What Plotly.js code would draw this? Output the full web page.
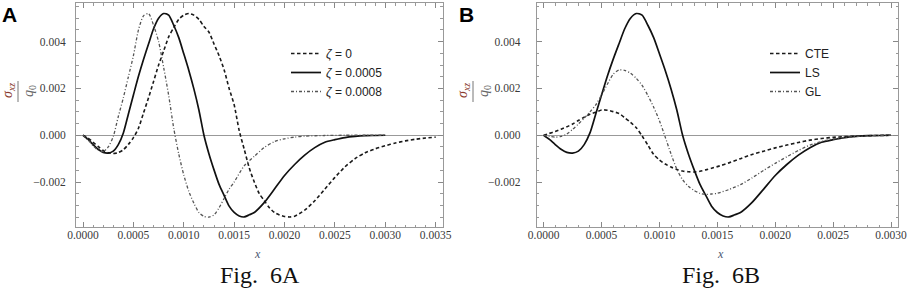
<!DOCTYPE html>
<html>
<head>
<meta charset="utf-8">
<script src="https://cdn.plot.ly/plotly-3.0.1.min.js"></script>
<style>html,body{margin:0;padding:0;background:#fff;}#chart{width:913px;height:288px;}</style>
</head>
<body>
<div id="chart"></div>
<script>
// ---------- DATA ----------
// Panel A
const xA0 = [0,0.00005,0.0001,0.00015,0.0002,0.00025,0.0003,0.00035,0.0004,0.00045,0.0005,0.00055,0.0006,0.00065,0.0007,0.00075,0.0008,0.00085,0.0009,0.00095,0.001,0.00105,0.0011,0.00115,0.0012,0.00125,0.0013,0.00135,0.0014,0.00145,0.0015,0.00155,0.0016,0.00165,0.0017,0.00175,0.0018,0.00185,0.0019,0.00195,0.002,0.00205,0.0021,0.0022,0.0023,0.0024,0.0025,0.0026,0.0027,0.0028,0.0029,0.003,0.0031,0.0032,0.0033,0.0034,0.0035];
const yA0 = [0,-0.00012,-0.0003,-0.00048,-0.00065,-0.00075,-0.00078,-0.00074,-0.00062,-0.00039,-0.0001,0.0003,0.00095,0.0016,0.0023,0.003,0.0036,0.0042,0.0046,0.00495,0.00513,0.0052,0.00513,0.00495,0.00465,0.0044,0.0039,0.0034,0.0028,0.002,0.0013,0.0002,-0.0006,-0.0014,-0.002,-0.0025,-0.0028,-0.0031,-0.0033,-0.00341,-0.00347,-0.00349,-0.00346,-0.0032,-0.0028,-0.0023,-0.0018,-0.00135,-0.001,-0.00075,-0.00058,-0.00045,-0.00033,-0.00024,-0.00017,-0.00012,-0.00008];

const xLS = [0,0.00005,0.0001,0.00015,0.0002,0.00025,0.0003,0.00035,0.0004,0.00045,0.0005,0.00055,0.0006,0.00065,0.0007,0.00075,0.0008,0.00085,0.0009,0.00095,0.001,0.00105,0.0011,0.00115,0.0012,0.00125,0.0013,0.00135,0.0014,0.00145,0.0015,0.00155,0.0016,0.00165,0.0017,0.0018,0.0019,0.002,0.0021,0.0022,0.0023,0.0024,0.0025,0.0026,0.0027,0.0028,0.0029,0.003];
const yLS = [0,-0.00018,-0.0004,-0.0006,-0.00073,-0.00076,-0.00068,-0.0004,0.0001,0.00091,0.00172,0.00252,0.00324,0.0039,0.00455,0.005,0.0052,0.00513,0.0047,0.00417,0.00348,0.00277,0.00198,0.00108,0.0000,-0.0008,-0.00148,-0.0021,-0.00257,-0.00303,-0.0033,-0.00345,-0.00349,-0.0034,-0.0033,-0.00287,-0.0023,-0.00172,-0.00125,-0.00085,-0.00053,-0.0003,-0.00019,-0.0001,-0.00005,-0.00002,-0.00001,0];

const xA8 = [0,0.00005,0.0001,0.00015,0.0002,0.00025,0.0003,0.00035,0.0004,0.00045,0.0005,0.00055,0.0006,0.00065,0.0007,0.00075,0.0008,0.00085,0.0009,0.00095,0.001,0.00105,0.0011,0.00115,0.0012,0.00125,0.0013,0.00135,0.0014,0.00145,0.0015,0.0016,0.0017,0.0018,0.0019,0.002,0.0021,0.0022,0.0024,0.0026,0.0028,0.003];
const yA8 = [0,-0.0002,-0.00045,-0.00064,-0.0007,-0.0005,-0.00005,0.0008,0.0016,0.0025,0.0034,0.0045,0.0051,0.0052,0.0047,0.004,0.0029,0.0017,0.0003,-0.0008,-0.0017,-0.0024,-0.0029,-0.0033,-0.00347,-0.0035,-0.0034,-0.0031,-0.0027,-0.0023,-0.002,-0.0013,-0.0009,-0.00052,-0.00027,-0.00015,-0.00008,-0.00004,-0.00001,0,0,0];

// Panel B
const xB = [0,0.00005,0.0001,0.00015,0.0002,0.00025,0.0003,0.00035,0.0004,0.00045,0.0005,0.00055,0.0006,0.00065,0.0007,0.00075,0.0008,0.00085,0.0009,0.00095,0.001,0.00105,0.0011,0.00115,0.0012,0.00125,0.0013,0.00135,0.0014,0.00145,0.0015,0.0016,0.0017,0.0018,0.0019,0.002,0.0021,0.0022,0.0023,0.0024,0.0025,0.0026,0.0027,0.0028,0.0029,0.003];
const yCTE = [0,0.00008,0.00016,0.00026,0.00036,0.00048,0.00063,0.00077,0.0009,0.00098,0.00108,0.00107,0.00101,0.00093,0.00075,0.00055,0.00032,-0.00003,-0.00042,-0.00082,-0.00106,-0.00123,-0.00136,-0.00146,-0.00153,-0.00156,-0.00157,-0.00154,-0.00148,-0.00141,-0.00134,-0.00118,-0.001,-0.00082,-0.00068,-0.00054,-0.00042,-0.00031,-0.00021,-0.00014,-0.00009,-0.00006,-0.00004,-0.00002,-0.00001,0];
const yGL = [0,-0.00005,-0.00008,-0.00005,0.00005,0.00025,0.00048,0.00073,0.001,0.0013,0.00172,0.00218,0.0026,0.00279,0.00277,0.00265,0.00243,0.00213,0.0017,0.0012,0.00062,-0.00008,-0.0008,-0.00145,-0.0019,-0.00218,-0.00236,-0.00248,-0.00253,-0.00251,-0.00248,-0.00232,-0.00211,-0.00182,-0.0015,-0.0012,-0.00092,-0.00065,-0.00042,-0.00027,-0.00016,-0.00009,-0.00005,-0.00003,-0.00001,0];

const namesA = ['<i>ζ</i> = 0', '<i>ζ</i> = 0.0005', '<i>ζ</i> = 0.0008'];
const namesB = ['CTE', 'LS', 'GL'];
const panelLabels = ['A', 'B'];
const figLabels = ['Fig.\u00a0 6A', 'Fig.\u00a0 6B'];

// ---------- STYLE ----------
const W = 913, H = 288;
const px = v => v / W;
const py = v => 1 - v / H;
const dashS = '3.5px,2.5px';
const dashDD = '3px,2px,1px,2px';
const lineDash = {color:'#1a1a1a', width:1.6, dash:dashS, shape:'spline', smoothing:0.7};
const lineSolid = {color:'#111', width:1.7, shape:'spline', smoothing:0.7};
const lineDD = {color:'#555', width:1.3, dash:dashDD, shape:'spline', smoothing:0.7};

const traces = [
  {x:xA0, y:yA0, name:namesA[0], mode:'lines', line:lineDash, xaxis:'x', yaxis:'y', legend:'legend'},
  {x:xLS, y:yLS, name:namesA[1], mode:'lines', line:lineSolid, xaxis:'x', yaxis:'y', legend:'legend'},
  {x:xA8, y:yA8, name:namesA[2], mode:'lines', line:lineDD, xaxis:'x', yaxis:'y', legend:'legend'},
  {x:xB, y:yCTE, name:namesB[0], mode:'lines', line:lineDash, xaxis:'x2', yaxis:'y2', legend:'legend2'},
  {x:xLS, y:yLS, name:namesB[1], mode:'lines', line:lineSolid, xaxis:'x2', yaxis:'y2', legend:'legend2'},
  {x:xB, y:yGL, name:namesB[2], mode:'lines', line:lineDD, xaxis:'x2', yaxis:'y2', legend:'legend2'}
];

const tickFont = {family:'Liberation Serif, Times New Roman, serif', size:11.5, color:'#3a3a3a'};
function xAx(domain, range, anchor){
  return {domain, range, anchor, tick0:0, dtick:0.0005, tickformat:'.4f',
    ticks:'inside', ticklen:5, tickwidth:1, tickcolor:'#888',
    minor:{dtick:0.0001, ticks:'inside', ticklen:2.5, tickcolor:'#999', tickwidth:1},
    showline:true, linecolor:'#999', linewidth:1, mirror:'ticks',
    showgrid:false, zeroline:false, tickfont:tickFont, ticklabelstandoff:-3};
}
function yAx(domain, anchor, standoff){
  return {domain, range:[-0.00392, 0.00565], anchor, tick0:0, dtick:0.002, tickformat:'.3f',
    ticks:'inside', ticklen:5, tickwidth:1, tickcolor:'#888',
    minor:{dtick:0.0005, ticks:'inside', ticklen:2.5, tickcolor:'#999', tickwidth:1},
    showline:true, linecolor:'#999', linewidth:1, mirror:'ticks',
    showgrid:false, zeroline:true, zerolinecolor:'#999', zerolinewidth:1,
    tickfont:tickFont, ticklabelstandoff:standoff};
}
const yDom = [py(227), py(3)];

const serif = 'Liberation Serif, Times New Roman, serif';
const annotations = [];
const shapes = [];
const panels = [{left:0, xc:257.5, fig:260, lab:9.5}, {left:455, xc:720, fig:720.5, lab:466.5}];
panels.forEach((p, i) => {
  annotations.push({xref:'paper', yref:'paper', x:px(p.lab), y:py(14.5), xanchor:'center', yanchor:'middle',
    text:'<b>'+panelLabels[i]+'</b>', showarrow:false, font:{family:'Liberation Sans, Arial, sans-serif', size:21, color:'#000'}});
  annotations.push({xref:'paper', yref:'paper', x:px(p.fig), y:py(275), xanchor:'center', yanchor:'middle',
    text:figLabels[i], showarrow:false, font:{family:serif, size:24, color:'#111'}});
  annotations.push({xref:'paper', yref:'paper', x:px(p.xc), y:py(253.5), xanchor:'center', yanchor:'middle',
    text:'<i>x</i>', showarrow:false, font:{family:serif, size:12, color:'#4a5670'}});
  annotations.push({xref:'paper', yref:'paper', x:px(p.left+8), y:py(91), xanchor:'center', yanchor:'middle', textangle:-90,
    text:'<i>σ</i><sub><i>xz</i></sub>', showarrow:false, font:{family:serif, size:14, color:'#8a3b2e'}});
  annotations.push({xref:'paper', yref:'paper', x:px(p.left+29), y:py(91), xanchor:'center', yanchor:'middle', textangle:-90,
    text:'<i>q</i><sub>0</sub>', showarrow:false, font:{family:serif, size:14, color:'#666'}});
  shapes.push({type:'line', xref:'paper', yref:'paper', x0:px(p.left+18), x1:px(p.left+18), y0:py(81), y1:py(102),
    line:{color:'#777', width:1}});
});

const legFont = {family:'Liberation Sans, Arial, sans-serif', size:12, color:'#222'};
const layout = {
  width:W, height:H, margin:{l:0, r:0, t:0, b:0},
  paper_bgcolor:'#fff', plot_bgcolor:'#fff',
  xaxis: xAx([px(76), px(442.7)], [-0.00007, 0.00357], 'y'),
  yaxis: yAx(yDom, 'x', 7),
  xaxis2: xAx([px(536.7), px(898)], [-0.00006, 0.00306], 'y2'),
  yaxis2: yAx(yDom, 'x2', 13),
  showlegend:true,
  legend:{x:px(286), y:py(39), xanchor:'left', yanchor:'top', bgcolor:'rgba(0,0,0,0)', borderwidth:0, font:legFont},
  legend2:{x:px(765), y:py(39), xanchor:'left', yanchor:'top', bgcolor:'rgba(0,0,0,0)', borderwidth:0, font:legFont},
  annotations, shapes
};

Plotly.newPlot('chart', traces, layout, {staticPlot:true, displayModeBar:false});
</script>
</body>
</html>
